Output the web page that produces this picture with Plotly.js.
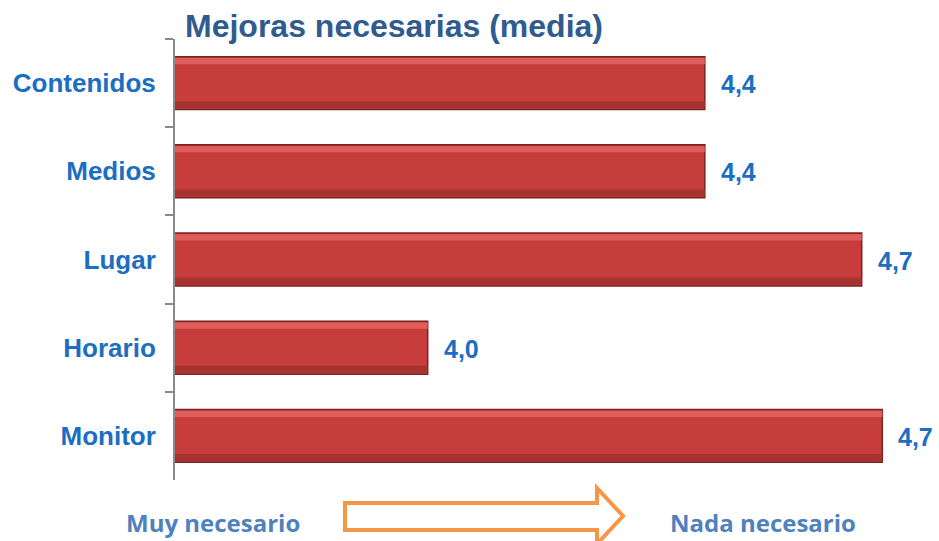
<!DOCTYPE html>
<html>
<head>
<meta charset="utf-8">
<script src="https://cdn.plot.ly/plotly-3.0.1.min.js"></script>
<style>
  html, body { margin: 0; padding: 0; background: #ffffff; }
  #chart { width: 939px; height: 541px; }
</style>
</head>
<body>
<div id="chart"></div>
<script>
// Data
const categories = ["Contenidos", "Medios", "Lugar", "Horario", "Monitor"];
const meanValues = [4.424, 4.424, 4.668, 3.993, 4.700];
const chartTitle = "Mejoras necesarias (media)";
const leftNote = "Muy necesario";
const rightNote = "Nada necesario";

const W = 939, H = 541;
const M = {l: 175, r: 4, t: 39, b: 61};
const PW = W - M.l - M.r, PH = H - M.t - M.b;
const px = x => (x - M.l) / PW;
const py = y => (H - M.b - y) / PH;

const baseBar = {
  type: "bar", orientation: "h",
  x: meanValues, y: categories,
  width: 0.6, offset: -0.3,
  marker: {color: "#c63d3b", line: {color: "#7a2321", width: 1.5}},
  hoverinfo: "x+y"
};
const topShine = {
  type: "bar", orientation: "h",
  x: meanValues, y: categories,
  width: 0.07, offset: -0.285,
  marker: {color: "#de5e5b", line: {width: 0}},
  hoverinfo: "skip"
};
const bottomShade = {
  type: "bar", orientation: "h",
  x: meanValues, y: categories,
  width: 0.08, offset: 0.205,
  marker: {color: "#a53331", line: {width: 0}},
  hoverinfo: "skip"
};

const valueAnnotations = meanValues.map((v, i) => ({
  x: v, y: categories[i], xref: "x", yref: "y",
  text: v.toFixed(1).replace(".", ","),
  showarrow: false, xanchor: "left", yanchor: "middle",
  xshift: 14, yshift: -1,
  font: {family: "Liberation Sans, Arial, sans-serif", size: 25, color: "#1b6ec2", weight: "bold"}
}));

const noteFont = {family: "Open Sans, sans-serif", size: 24, color: "#4f81bd", weight: 700};
const notes = [
  {xref: "paper", yref: "paper", x: px(124), y: py(522), xanchor: "left", yanchor: "middle",
   text: leftNote, showarrow: false, font: noteFont},
  {xref: "paper", yref: "paper", x: px(668), y: py(522), xanchor: "left", yanchor: "middle",
   text: rightNote, showarrow: false, font: noteFont}
];

const arrowPts = [[345,503],[597,503],[597,488],[623,516],[597,544],[597,530],[345,530]];
const arrowPath = "M" + arrowPts.map(p => px(p[0]).toFixed(5) + "," + py(p[1]).toFixed(5)).join(" L") + " Z";

const layout = {
  width: W, height: H,
  margin: M,
  paper_bgcolor: "#ffffff", plot_bgcolor: "#ffffff",
  barmode: "overlay",
  showlegend: false,
  title: {
    text: "<b>" + chartTitle + "</b>",
    xref: "container", yref: "container",
    x: 185 / W, xanchor: "left",
    y: 1 - 26 / H, yanchor: "middle",
    font: {family: "Liberation Sans, Arial, sans-serif", size: 32, color: "#2f5b8f"}
  },
  xaxis: {range: [3.6, 3.6 + PW / 643], visible: false, showgrid: false, zeroline: false, fixedrange: true},
  yaxis: {
    type: "category", autorange: "reversed",
    showline: true, linecolor: "#8a8a8a", linewidth: 2,
    ticks: "outside", tickson: "boundaries", ticklen: 8, tickwidth: 2, tickcolor: "#8a8a8a",
    ticklabelstandoff: 12,
    tickfont: {family: "Liberation Sans, Arial, sans-serif", size: 26, color: "#1b6ec2", weight: "bold"},
    showgrid: false, zeroline: false, fixedrange: true
  },
  annotations: valueAnnotations.concat(notes),
  shapes: [{
    type: "path", xref: "paper", yref: "paper", path: arrowPath,
    line: {color: "#f79646", width: 4}, fillcolor: "rgba(0,0,0,0)"
  }]
};

Plotly.newPlot("chart", [baseBar, topShine, bottomShade], layout, {displayModeBar: false, staticPlot: true});
</script>
</body>
</html>
